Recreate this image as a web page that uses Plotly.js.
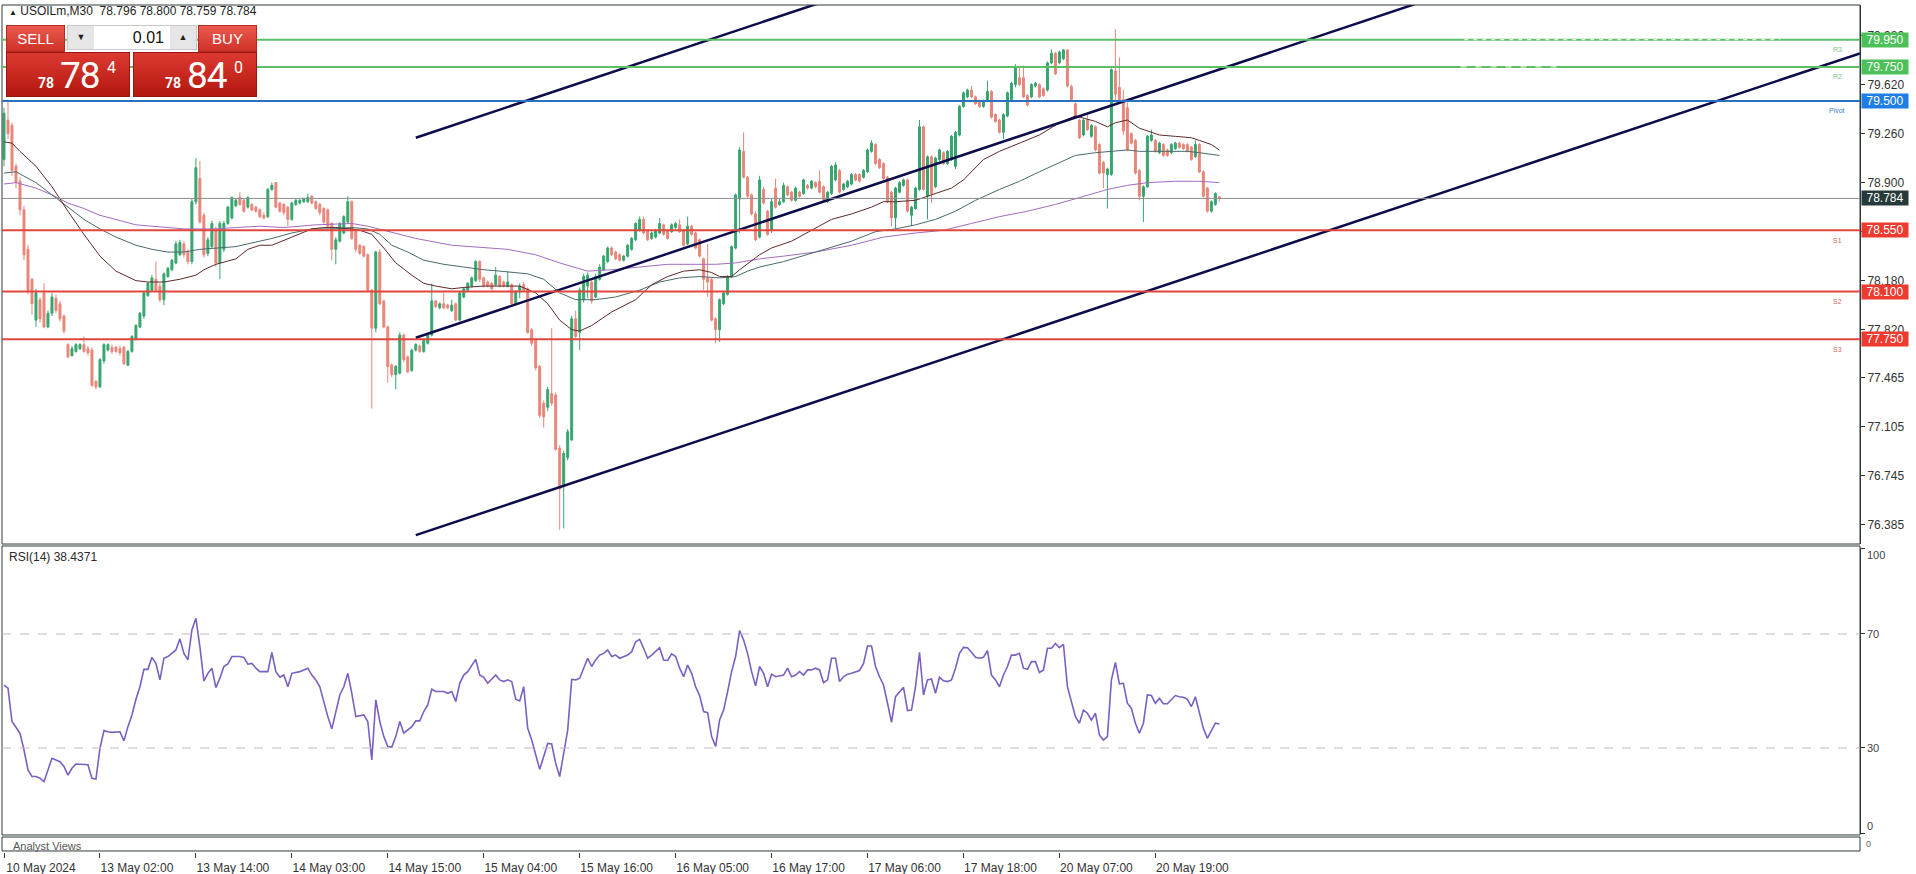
<!DOCTYPE html>
<html><head><meta charset="utf-8">
<script src="https://cdn.plot.ly/plotly-3.0.1.min.js"></script>
<style>
body{margin:0;background:#fff;overflow:hidden}
#chart{position:absolute;left:0;top:0;width:1916px;height:874px}
#panel{position:absolute;left:0;top:0;width:0;height:0;font-family:Roboto,'Liberation Sans',sans-serif}
.btn{position:absolute;top:25px;width:59px;height:27px;background:linear-gradient(#ea5a4e,#cf3127);color:#fff;font:15px/25px 'Liberation Sans',sans-serif;text-align:center;border:1px solid #b8281e;box-sizing:border-box}
#spin{position:absolute;left:67px;top:25px;width:130px;height:25px;background:#fff;border:1px solid #c8c8c8;box-sizing:border-box}
.sb{position:absolute;top:0;width:26px;height:23px;background:#e6e6e6;font-size:9px;line-height:23px;text-align:center;color:#222}
#lot{position:absolute;right:32px;top:0;font:16px/23px 'Liberation Sans',sans-serif;color:#111}
.pbox{position:absolute;top:52px;width:124px;height:45px;background:linear-gradient(#dc3a30,#b3170f);color:#fff;border:1px solid #9a1610;box-sizing:border-box}
.ps{position:absolute;left:31px;top:23px;font:bold 14px/1 Roboto,sans-serif}
.pb{position:absolute;left:53px;top:4px;font:37px/1 Roboto,sans-serif;letter-spacing:-1px}
.pu{position:absolute;left:100px;top:7px;font:16px/1 Roboto,sans-serif}
</style></head><body>
<div id="chart"></div>
<div id="panel">
 <div class="btn" style="left:6px">SELL</div>
 <div id="spin"><div class="sb" style="left:0">&#9660;</div><div id="lot">0.01</div><div class="sb" style="right:0">&#9650;</div></div>
 <div class="btn" style="left:198px">BUY</div>
 <div class="pbox" style="left:6px"><span class="ps">78</span><span class="pb">78</span><span class="pu">4</span></div>
 <div class="pbox" style="left:133px"><span class="ps">78</span><span class="pb">84</span><span class="pu">0</span></div>
</div>
<script>
// ---------------- DATA ----------------
const openP = [79.07,79.36,79.32,79.02,78.91,78.70,78.41,78.19,77.89,78.04,
78.09,77.84,77.94,78.05,78.01,77.92,77.71,77.63,77.66,77.68,
77.71,77.68,77.67,77.44,77.40,77.59,77.67,77.69,77.69,77.68,
77.69,77.56,77.66,77.75,77.84,77.92,78.07,78.11,78.19,78.14,
78.04,78.21,78.26,78.31,78.37,78.45,78.39,78.32,78.76,78.93,
78.66,78.38,78.43,78.56,78.31,78.41,78.60,78.64,78.73,78.79,
78.77,78.72,78.74,78.72,78.70,78.66,78.65,78.85,78.90,78.75,
78.74,78.72,78.63,78.74,78.75,78.76,78.76,78.80,78.76,78.74,
78.71,78.70,78.60,78.41,78.47,78.53,78.61,78.76,78.54,78.44,
78.43,78.37,78.11,77.83,78.39,78.03,77.84,77.56,77.49,77.50,
77.78,77.62,77.52,77.67,77.70,77.66,77.72,77.78,78.03,77.98,
78.01,78.00,77.96,78.01,77.89,78.06,78.11,78.14,78.18,78.32,
78.20,78.17,78.16,78.15,78.21,78.17,78.14,78.15,78.01,78.10,
78.15,78.12,77.82,77.74,77.55,77.28,77.25,77.35,77.34,76.95,
76.67,76.88,77.01,77.90,77.80,78.04,78.14,78.17,78.06,78.19,
78.26,78.32,78.42,78.39,78.37,78.33,78.36,78.41,78.48,78.55,
78.63,78.55,78.49,78.50,78.53,78.59,78.55,78.54,78.57,78.59,
78.55,78.45,78.58,78.53,78.48,78.34,78.20,78.19,77.90,77.82,
78.01,78.08,78.21,78.42,78.78,79.13,78.94,78.81,78.67,78.50,
78.85,78.69,78.55,78.86,78.74,78.76,78.87,78.83,78.77,78.83,
78.82,78.88,78.86,78.90,78.91,78.87,78.76,78.82,78.92,78.99,
78.85,78.87,78.89,78.96,78.96,78.94,78.98,79.13,79.18,79.07,
79.04,78.94,78.83,78.64,78.83,78.88,78.92,78.66,78.71,78.85,
79.31,78.80,79.09,78.87,79.07,79.12,79.04,79.07,79.02,79.25,
79.46,79.53,79.58,79.53,79.50,79.46,79.50,79.57,79.40,79.36,
79.27,79.39,79.51,79.62,79.67,79.67,79.54,79.53,79.61,79.62,
79.59,79.58,79.78,79.85,79.78,79.81,79.875,79.605,79.48,79.36,
79.25,79.36,79.24,79.31,79.18,79.05,78.96,78.96,79.72,79.60,
79.51,79.45,79.26,79.21,78.99,78.80,78.87,79.21,79.21,79.12,
79.18,79.14,79.12,79.15,79.19,79.18,79.18,79.16,79.09,79.18,
78.98,78.86,78.69,78.74,78.796];
const highP = [79.45,79.51,79.34,79.04,78.94,78.73,78.44,78.20,78.12,78.06,
78.16,77.96,78.09,78.08,78.03,77.93,77.72,77.70,77.72,77.72,
77.77,77.70,77.69,77.45,77.61,77.72,77.72,77.71,77.70,77.70,
77.70,77.67,77.78,77.86,77.95,78.10,78.17,78.22,78.32,78.16,
78.24,78.28,78.34,78.47,78.48,78.47,78.41,78.78,79.08,79.06,
78.68,78.50,78.62,78.58,78.62,78.62,78.73,78.80,78.78,78.83,
78.78,78.80,78.75,78.73,78.71,78.68,78.86,78.90,78.90,78.76,
78.75,78.73,78.76,78.78,78.78,78.79,78.82,78.81,78.77,78.75,
78.72,78.71,78.61,78.50,78.61,78.66,78.80,78.77,78.55,78.45,
78.44,78.38,78.12,78.40,78.41,78.04,77.85,77.57,77.56,77.80,
77.79,77.63,77.68,77.72,77.71,77.75,77.79,78.16,78.04,78.02,
78.09,78.01,78.04,78.02,78.10,78.13,78.17,78.21,78.33,78.33,
78.21,78.18,78.17,78.28,78.22,78.18,78.25,78.16,78.11,78.16,
78.17,78.13,77.83,77.75,77.56,77.30,77.40,77.83,77.36,76.97,
76.93,77.09,77.92,77.96,78.13,78.23,78.24,78.18,78.23,78.30,
78.37,78.43,78.43,78.40,78.38,78.37,78.45,78.50,78.61,78.65,
78.65,78.56,78.54,78.56,78.64,78.60,78.56,78.60,78.61,78.63,
78.56,78.65,78.59,78.54,78.49,78.35,78.45,78.20,77.91,78.05,
78.10,78.22,78.44,78.82,79.16,79.27,78.95,78.82,78.69,78.95,
78.87,78.70,78.78,78.93,78.78,78.90,78.88,78.84,78.87,78.84,
78.93,78.89,78.92,78.91,78.99,78.88,78.84,79.03,79.05,79.00,
78.90,78.92,78.97,78.97,78.97,79.00,79.15,79.21,79.19,79.08,
79.05,78.95,78.84,78.87,78.91,78.93,78.93,78.73,78.87,79.36,
79.32,79.10,79.10,79.09,79.15,79.13,79.14,79.25,79.28,79.47,
79.57,79.59,79.61,79.54,79.51,79.51,79.65,79.58,79.41,79.37,
79.41,79.57,79.64,79.77,79.75,79.76,79.55,79.63,79.64,79.63,
79.60,79.79,79.88,79.86,79.87,79.88,79.88,79.62,79.49,79.37,
79.37,79.40,79.33,79.32,79.19,79.06,79.01,79.74,80.03,79.82,
79.58,79.49,79.27,79.22,79.00,78.88,79.25,79.29,79.22,79.20,
79.19,79.15,79.19,79.20,79.20,79.19,79.19,79.17,79.21,79.19,
78.99,78.87,78.77,78.83,78.800];
const lowP = [79.02,79.22,78.95,78.86,78.66,78.33,78.08,77.93,77.84,77.87,
77.83,77.83,77.92,77.94,77.88,77.79,77.61,77.62,77.65,77.67,
77.65,77.63,77.40,77.38,77.39,77.57,77.66,77.64,77.65,77.63,
77.56,77.55,77.65,77.74,77.83,77.90,78.06,78.10,78.10,78.02,
78.00,78.20,78.25,78.30,78.36,78.35,78.30,78.30,78.74,78.60,
78.35,78.36,78.42,78.28,78.19,78.39,78.59,78.63,78.72,78.73,
78.68,78.71,78.69,78.68,78.64,78.63,78.64,78.84,78.71,78.68,
78.66,78.58,78.62,78.73,78.74,78.75,78.75,78.74,78.70,78.66,
78.60,78.57,78.33,78.30,78.46,78.52,78.60,78.48,78.39,78.37,
78.35,78.10,77.24,77.80,78.00,77.83,77.43,77.47,77.38,77.49,
77.58,77.50,77.51,77.66,77.65,77.65,77.71,77.77,77.98,77.97,
77.97,77.97,77.95,77.88,77.88,78.05,78.10,78.13,78.17,78.17,
78.13,78.13,78.11,78.14,78.13,78.13,78.13,78.00,78.00,78.05,
78.10,77.79,77.70,77.52,77.17,77.10,77.22,77.26,76.93,76.35,
76.36,76.86,77.00,77.75,77.67,78.02,78.05,78.01,78.05,78.18,
78.25,78.31,78.36,78.33,78.32,78.32,78.35,78.40,78.47,78.54,
78.52,78.47,78.48,78.49,78.52,78.51,78.48,78.53,78.56,78.53,
78.43,78.44,78.51,78.41,78.35,78.11,78.06,77.88,77.72,77.73,
78.00,78.07,78.20,78.41,78.53,78.93,78.79,78.66,78.47,78.49,
78.74,78.51,78.53,78.71,78.73,78.75,78.80,78.76,78.76,78.79,
78.81,78.85,78.85,78.86,78.82,78.76,78.75,78.81,78.91,78.82,
78.84,78.86,78.88,78.91,78.90,78.93,78.97,79.12,79.03,79.00,
78.92,78.75,78.58,78.56,78.82,78.87,78.68,78.58,78.70,78.84,
78.84,78.63,78.75,78.86,79.06,79.03,79.03,79.06,79.00,79.24,
79.45,79.52,79.52,79.47,79.45,79.45,79.49,79.37,79.34,79.26,
79.22,79.38,79.50,79.60,79.61,79.52,79.46,79.52,79.60,79.52,
79.53,79.57,79.77,79.69,79.77,79.80,79.60,79.50,79.37,79.22,
79.24,79.28,79.23,79.13,78.96,78.86,78.71,78.95,79.50,79.49,
79.25,79.13,79.18,78.96,78.77,78.61,78.86,79.20,79.12,79.11,
79.09,79.09,79.11,79.14,79.15,79.14,79.12,79.06,79.08,78.97,
78.79,78.68,78.68,78.73,78.759];
const closeP = [79.41,79.26,78.99,78.90,78.70,78.37,78.11,78.01,78.09,77.90,
77.84,77.94,78.06,77.96,77.90,77.81,77.62,77.68,77.71,77.71,
77.66,77.65,77.41,77.40,77.60,77.71,77.71,77.66,77.66,77.65,
77.57,77.66,77.77,77.85,77.94,78.09,78.16,78.20,78.11,78.04,
78.23,78.27,78.33,78.45,78.46,78.37,78.32,78.76,79.01,78.61,
78.37,78.48,78.60,78.31,78.60,78.60,78.72,78.79,78.77,78.74,
78.69,78.79,78.70,78.69,78.65,78.64,78.85,78.88,78.72,78.69,
78.68,78.63,78.75,78.77,78.77,78.78,78.79,78.75,78.71,78.68,
78.61,78.58,78.41,78.48,78.60,78.65,78.76,78.49,78.41,78.38,
78.36,78.11,77.83,78.39,78.01,77.84,77.55,77.49,77.55,77.78,
77.60,77.51,77.67,77.71,77.66,77.74,77.78,78.03,77.99,78.01,
77.98,77.98,78.00,77.89,78.09,78.12,78.16,78.20,78.32,78.19,
78.14,78.14,78.12,78.22,78.14,78.14,78.17,78.01,78.10,78.14,
78.11,77.80,77.72,77.54,77.19,77.18,77.38,77.28,76.94,76.65,
76.91,77.07,77.90,77.77,78.11,78.21,78.22,78.03,78.21,78.28,
78.36,78.42,78.37,78.34,78.33,78.36,78.44,78.49,78.60,78.63,
78.53,78.48,78.53,78.55,78.60,78.52,78.49,78.59,78.60,78.54,
78.44,78.58,78.52,78.42,78.36,78.19,78.17,77.89,77.82,78.04,
78.09,78.21,78.43,78.81,79.14,78.94,78.80,78.67,78.48,78.92,
78.75,78.52,78.76,78.72,78.76,78.88,78.81,78.77,78.86,78.80,
78.92,78.86,78.91,78.87,78.83,78.77,78.83,79.02,79.03,78.83,
78.89,78.91,78.96,78.92,78.91,78.99,79.14,79.19,79.04,79.01,
78.93,78.76,78.64,78.86,78.90,78.92,78.69,78.72,78.86,79.31,
78.85,79.09,78.82,79.08,79.14,79.04,79.13,79.24,79.27,79.46,
79.56,79.58,79.53,79.48,79.46,79.50,79.57,79.38,79.35,79.27,
79.40,79.56,79.63,79.75,79.62,79.53,79.47,79.62,79.63,79.53,
79.54,79.78,79.85,79.70,79.86,79.875,79.61,79.51,79.385,79.23,
79.36,79.29,79.32,79.14,78.97,78.97,79.00,79.73,79.55,79.51,
79.28,79.14,79.19,78.97,78.80,78.87,79.24,79.25,79.13,79.19,
79.10,79.10,79.18,79.19,79.16,79.15,79.13,79.07,79.18,78.98,
78.80,78.69,78.76,78.82,78.784];

// RSI(14) readings: bar index -> value
const rsiBars = [0,1,2,4,5,6,7,8,9,10,11,12,14,15,16,17,18,20,21,22,23,24,25,26,27,29,30,31,32,33,34,35,36,37,38,39,40,41,43,44,45,46,47,48,49,50,51,52,53,54,55,56,57,59,60,61,62,63,64,66,67,68,69,70,71,72,74,75,76,77,78,79,80,81,82,83,84,85,86,87,88,90,91,92,93,94,95,96,97,98,99,100,102,103,104,105,106,107,108,110,111,112,113,114,115,116,117,118,119,120,121,123,124,125,126,127,128,129,130,131,132,133,134,135,136,137,138,139,140,141,142,143,144,145,146,147,148,149,150,151,152,153,154,156,157,158,159,160,161,162,163,164,165,166,167,168,169,170,171,172,173,174,175,176,177,178,179,180,181,182,183,184,185,186,187,188,189,190,191,192,193,195,196,197,198,199,200,201,202,203,204,205,206,207,208,209,210,211,212,213,214,215,216,217,218,219,220,221,222,223,224,225,226,227,228,229,230,231,232,233,234,235,236,237,238,239,240,241,242,243,244,245,246,247,248,249,250,251,252,253,254,255,256,257,258,259,260,261,262,263,264,265,266,267,268,269,270,271,272,273,274,275,276,277,278,279,280,281,282,283,284,285,286,287,288,289,290,291,292,293,294,295,296,297,298,299,300,301,302,303,304];
const rsiVals = [52.1,51.0,39.3,35.2,29.3,22.3,20.0,20.0,19.4,18.2,22.3,26.4,25.2,23.5,20.5,22.9,24.4,24.1,24.1,19.4,19.1,29.9,36.1,35.7,35.5,35.7,32.5,37.5,41.6,47.1,51.5,57.6,57.6,61.8,59.7,53.9,61.5,62.1,64.4,68.3,63.2,60.9,71.4,75.5,65.6,53.5,56.2,58.0,51.2,54.5,58.6,59.5,62.1,62.1,61.8,59.4,59.7,58.0,56.8,56.8,63.5,56.8,54.8,55.6,51.5,56.2,56.8,57.4,58.0,55.6,53.9,51.5,45.7,41.0,36.7,42.2,48.6,51.5,56.2,49.2,41.0,41.6,39.3,25.8,46.9,39.3,34.0,30.5,30.3,34.0,39.3,35.2,37.5,39.5,39.5,42.8,45.1,50.6,49.8,49.8,49.2,49.8,46.3,52.7,55.6,56.8,59.1,61.1,55.6,54.8,52.7,55.6,53.9,53.3,53.9,53.3,47.1,46.5,51.5,36.9,32.8,28.1,22.5,27.0,31.6,31.4,24.6,20.0,28.1,36.3,54.1,53.9,54.5,58.3,61.5,58.6,60.9,62.6,63.2,64.4,62.1,62.6,61.5,62.6,63.8,67.3,68.1,65.0,61.5,62.6,63.8,65.2,60.9,60.7,63.0,62.1,58.0,55.0,59.1,56.2,51.5,48.4,42.8,42.4,34.0,30.5,39.8,43.3,49.8,56.8,62.1,71.2,67.9,63.2,56.8,51.8,58.6,56.2,51.5,55.9,55.0,55.6,58.0,55.0,55.6,56.8,55.6,57.4,57.4,58.0,57.4,52.9,53.9,61.5,61.5,53.3,55.0,55.9,56.2,56.6,57.2,59.7,65.8,65.8,58.6,55.0,52.1,45.7,39.0,48.0,49.8,51.3,43.1,43.3,51.5,63.6,48.6,53.9,54.2,49.2,54.8,53.6,53.3,53.9,58.0,63.2,65.3,65.2,63.6,61.8,61.5,61.8,64.2,55.6,53.9,51.5,55.6,58.6,62.6,62.6,63.2,58.0,57.6,60.3,60.3,56.5,57.4,65.0,65.0,66.7,65.2,66.4,51.5,46.3,41.0,38.7,43.3,42.2,39.8,42.2,34.6,32.8,34.0,53.9,60.0,52.5,52.7,45.7,43.9,38.7,35.2,38.7,48.6,48.4,45.7,47.4,45.5,45.5,46.9,48.4,48.0,47.8,47.1,44.5,48.0,42.2,36.9,33.4,36.3,38.7,38.44];

// Moving averages (bar index, price)
const maFastBars = [0,2,4,8,12,16,20,24,28,33,36,40,44,48,50,53,58,61,64,67,72,77,80,83,87,89,92,95,98,102,105,108,112,115,120,126,129,133,136,139,142,144,147,152,158,162,166,170,174,177,179,182,184,189,192,197,202,207,212,217,220,223,228,232,237,240,245,249,254,259,264,268,273,276,278,281,284,289,293,297,299,302,304];
const maFastVals = [79.20,79.19,79.13,79.02,78.87,78.69,78.52,78.36,78.25,78.18,78.17,78.17,78.19,78.22,78.26,78.30,78.34,78.41,78.44,78.44,78.50,78.56,78.57,78.57,78.56,78.55,78.52,78.42,78.31,78.22,78.16,78.14,78.12,78.13,78.14,78.14,78.14,78.09,78.01,77.89,77.82,77.81,77.85,77.95,78.04,78.15,78.21,78.25,78.26,78.24,78.21,78.21,78.26,78.37,78.42,78.47,78.55,78.63,78.67,78.72,78.76,78.76,78.77,78.81,78.86,78.92,79.07,79.13,79.19,79.25,79.34,79.39,79.35,79.31,79.34,79.36,79.30,79.25,79.24,79.23,79.21,79.18,79.14];
const maMidBars = [0,3,8,12,16,20,24,28,33,37,41,45,49,53,58,61,64,67,72,77,82,87,91,94,97,101,105,110,115,120,124,131,135,139,143,148,153,159,164,169,174,179,183,186,189,195,203,212,218,223,228,233,238,243,249,254,259,264,268,273,277,281,284,289,296,299,304];
const maMidVals = [78.97,78.98,78.90,78.81,78.72,78.63,78.56,78.50,78.44,78.41,78.39,78.39,78.41,78.42,78.43,78.45,78.47,78.49,78.53,78.56,78.56,78.57,78.56,78.52,78.44,78.39,78.33,78.30,78.28,78.26,78.25,78.23,78.19,78.09,78.04,78.04,78.06,78.11,78.17,78.20,78.21,78.20,78.21,78.25,78.28,78.32,78.39,78.47,78.54,78.56,78.59,78.63,78.69,78.77,78.85,78.91,78.98,79.05,79.10,79.12,79.13,79.14,79.13,79.13,79.13,79.12,79.10];
const maSlowBars = [0,3,8,12,16,20,24,28,33,37,41,45,49,53,58,64,70,78,87,91,95,103,112,120,126,133,139,146,152,159,166,173,178,183,189,195,203,212,220,228,235,242,249,256,263,269,276,281,286,293,299,304];
const maSlowVals = [78.89,78.90,78.86,78.81,78.75,78.71,78.66,78.63,78.59,78.58,78.57,78.56,78.56,78.56,78.57,78.58,78.57,78.59,78.60,78.58,78.55,78.49,78.44,78.42,78.41,78.37,78.31,78.25,78.26,78.28,78.30,78.30,78.30,78.31,78.34,78.36,78.39,78.44,78.50,78.53,78.55,78.60,78.65,78.69,78.74,78.79,78.85,78.88,78.90,78.91,78.91,78.90];

// Channel trend lines: [startBar, endBar], [startPrice, endPrice]
const channelBars = [[103,204],[103,352.75],[103,464.25]];
const channelPrices = [[79.23,80.22],[77.76,80.21],[76.31,79.85]];

// Pivot levels
const levelPrices = [79.95,79.75,79.50,78.55,78.10,77.75];
const levelNames = ['R3','R2','Pivot','S1','S2','S3'];
const lastPrice = 78.784;
const rsiLast = '38.4371';
const headerText = 'USOILm,M30\u00a0\u00a078.796 78.800 78.759 78.784';

// Axis ticks
const timeTickBars = [0,24,48,72,96,120,144,168,192,216,240,264,288];
const timeTickLabels = ['10 May 2024','13 May 02:00','13 May 14:00','14 May 03:00','14 May 15:00','15 May 04:00','15 May 16:00','16 May 05:00','16 May 17:00','17 May 06:00','17 May 18:00','20 May 07:00','20 May 19:00'];
const priceTicks = [76.385,76.745,77.105,77.465,77.820,78.180,78.540,78.900,79.260,79.620,79.980];
const rsiTicks = [0,30,70,100];
const rsiLevels = [30,70];

// ---------------- STYLE ----------------
const levelLine = ['#5cbf63','#5cbf63','#2a72c0','#e0463c','#e0463c','#e0463c'];
const levelBox = ['#4cc15a','#4cc15a','#1f7ee6','#ee3a2f','#ee3a2f','#ee3a2f'];
const levelTag = ['#7cc483','#7cc483','#3a7fd0','#d06a6a','#d06a6a','#d06a6a'];
const F = 'Liberation Sans, Arial, sans-serif';

const bars = openP.map((_, i) => i);
const traces = [
  {type:'candlestick', x:bars, open:openP, high:highP, low:lowP, close:closeP,
   xaxis:'x', yaxis:'y', hoverinfo:'skip', whiskerwidth:0,
   increasing:{line:{color:'#36a56f',width:1}, fillcolor:'#36a56f'},
   decreasing:{line:{color:'#e8867a',width:1}, fillcolor:'#e8867a'}},
  {type:'scatter', mode:'lines', x:maSlowBars, y:maSlowVals, line:{color:'#a46bbf',width:1}, hoverinfo:'skip'},
  {type:'scatter', mode:'lines', x:maMidBars, y:maMidVals, line:{color:'#4a6a6a',width:1}, hoverinfo:'skip'},
  {type:'scatter', mode:'lines', x:maFastBars, y:maFastVals, line:{color:'#5e2a2a',width:1}, hoverinfo:'skip'}
];
channelBars.forEach((b, i) => traces.push({type:'scatter', mode:'lines', x:b, y:channelPrices[i],
  line:{color:'#0c0c4a',width:2.5}, hoverinfo:'skip'}));
traces.push({type:'scatter', mode:'lines', x:rsiBars, y:rsiVals, xaxis:'x', yaxis:'y2',
  line:{color:'#7b5fc2',width:1.6}, hoverinfo:'skip'});

const shapes = [];
const annotations = [];
const border = {color:'#2f3a3a', width:1};
// pane frames
shapes.push({type:'rect', xref:'paper', yref:'paper', x0:0, x1:1, y0:0.3636, y1:1, line:border, fillcolor:'rgba(0,0,0,0)'});
shapes.push({type:'rect', xref:'paper', yref:'paper', x0:0, x1:1, y0:0.0201, y1:0.3613, line:border, fillcolor:'rgba(0,0,0,0)'});
shapes.push({type:'rect', xref:'paper', yref:'paper', x0:0, x1:1, y0:0.0012, y1:0.0177, line:border, fillcolor:'rgba(0,0,0,0)'});
// RSI levels
rsiLevels.forEach(v => shapes.push({type:'line', xref:'paper', yref:'y2', x0:0, x1:1, y0:v, y1:v,
  line:{color:'#c9b6c9', width:1, dash:'dash'}}));
// RSI scale labels (kept inside the pane like the terminal does)
rsiTicks.forEach(v => annotations.push({xref:'paper', yref:'y2', x:1, y:v, xanchor:'left', xshift:5,
  yanchor: v === 100 ? 'top' : (v === 0 ? 'bottom' : 'middle'), yshift: v === 100 ? 1 : 0,
  text:String(v), showarrow:false, font:{family:F,size:11,color:'#444'}}));
annotations.push({xref:'paper', yref:'paper', x:1, y:0.009, xanchor:'left', yanchor:'middle', xshift:4,
  text:'0', showarrow:false, font:{family:F,size:9,color:'#666'}});
// current price line
shapes.push({type:'line', xref:'paper', yref:'y', x0:0, x1:1, y0:lastPrice, y1:lastPrice, line:{color:'#8c8c8c', width:1}});
annotations.push({xref:'paper', yref:'y', x:1, y:lastPrice, xanchor:'left', yanchor:'middle', xshift:1,
  text:lastPrice.toFixed(3), showarrow:false, bgcolor:'#263a3a', font:{family:F,size:12,color:'#fff'}, width:46, height:14, borderpad:0});
// pivot levels
levelPrices.forEach((v, i) => {
  shapes.push({type:'line', xref:'paper', yref:'y', x0:0, x1:1, y0:v, y1:v, line:{color:levelLine[i], width:2}});
  annotations.push({xref:'paper', yref:'y', x:1, y:v, xanchor:'left', yanchor:'middle', xshift:1,
    text:v.toFixed(3), showarrow:false, bgcolor:levelBox[i], font:{family:F,size:12,color:'#fff'}, width:46, height:14, borderpad:0});
  annotations.push({xref:'paper', yref:'y', x:0.9877, y:v, xanchor:'center', yanchor:'middle', yshift:-10,
    text:levelNames[i], showarrow:false, font:{family:F,size:7,color:levelTag[i]}});
});
// faint gaps in the R3 / R2 lines (hidden object labels in the terminal)
shapes.push({type:'line', xref:'paper', yref:'y', x0:0.787, x1:0.957, y0:levelPrices[0], y1:levelPrices[0],
  line:{color:'#ffffff', width:1, dash:'4px,5px'}});
shapes.push({type:'line', xref:'paper', yref:'y', x0:0.785, x1:0.840, y0:levelPrices[1], y1:levelPrices[1],
  line:{color:'#ffffff', width:1, dash:'6px,9px'}});
// texts
annotations.push({xref:'paper', yref:'paper', x:0.0027, y:0.9929, xanchor:'left', yanchor:'middle', showarrow:false,
  text:'<span style="font-size:8px">\u25B2</span> ' + headerText, font:{family:F,size:12,color:'#1c1c1c'}});
annotations.push({xref:'paper', yref:'paper', x:0.0027, y:0.3483, xanchor:'left', yanchor:'middle', showarrow:false,
  text:'RSI(14) ' + rsiLast, font:{family:F,size:12,color:'#2a2a2a'}});
annotations.push({xref:'paper', yref:'paper', x:0.0048, y:0.0065, xanchor:'left', yanchor:'middle', showarrow:false,
  text:'Analyst Views', font:{family:F,size:11,color:'#555'}});

const layout = {
  width:1916, height:874, margin:{l:2, r:56, t:5, b:22},
  paper_bgcolor:'#fff', plot_bgcolor:'#fff', showlegend:false, hovermode:false,
  xaxis:{range:[-0.5,464.25], domain:[0,1], anchor:'free', position:0, tickmode:'array',
    tickvals:timeTickBars, ticktext:timeTickLabels, ticks:'outside', ticklen:5, tickcolor:'#333',
    showgrid:false, zeroline:false, showline:false, rangeslider:{visible:false},
    tickfont:{family:F,size:12,color:'#333'}, ticklabelshift:37, fixedrange:true},
  yaxis:{domain:[0.3636,1], range:[76.245,80.205], side:'right', anchor:'x', tickmode:'array',
    tickvals:priceTicks, ticktext:priceTicks.map(v => v.toFixed(3)), ticks:'outside', ticklen:4,
    tickcolor:'#333', showline:true, linecolor:'#2f3a3a', showgrid:false, zeroline:false,
    tickfont:{family:F,size:12,color:'#333'}, fixedrange:true},
  yaxis2:{domain:[0.02184,0.35833], range:[0,100], side:'right', anchor:'x', tickmode:'array',
    tickvals:rsiTicks, showticklabels:false, ticks:'outside', ticklen:4, tickcolor:'#333', showline:true,
    linecolor:'#2f3a3a', showgrid:false, zeroline:false, fixedrange:true},
  shapes:shapes, annotations:annotations
};
Plotly.newPlot('chart', traces, layout, {staticPlot:true, displayModeBar:false});
</script>
</body></html>
